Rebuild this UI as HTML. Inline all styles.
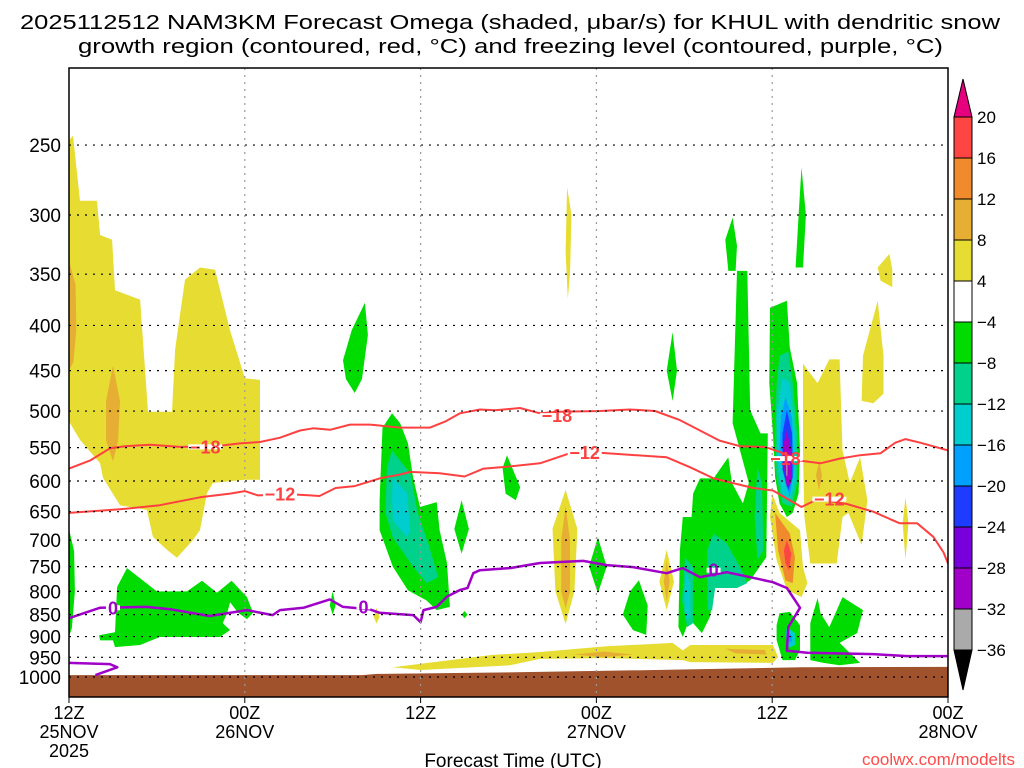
<!DOCTYPE html>
<html><head><meta charset="utf-8"><style>
html,body{margin:0;padding:0;background:#fff;}
svg{display:block;}
text{font-family:"Liberation Sans",sans-serif;fill:#000;}
</style></head><body>
<svg id="chart" width="1024" height="768" viewBox="0 0 1024 768" xmlns="http://www.w3.org/2000/svg">
<text x="20" y="29" font-size="20" textLength="980" lengthAdjust="spacingAndGlyphs">2025112512 NAM3KM Forecast Omega (shaded, μbar/s) for KHUL with dendritic snow</text>
<text x="78" y="53" font-size="20" textLength="865" lengthAdjust="spacingAndGlyphs">growth region (contoured, red, °C) and freezing level (contoured, purple, °C)</text>
<g id="plot"></g>
<g id="cbar"></g>
<text x="513" y="767" font-size="19" text-anchor="middle">Forecast Time (UTC)</text>
<text x="1015" y="765" font-size="17" text-anchor="end" style="fill:#ff4a4a">coolwx.com/modelts</text>
</svg>
<script>
// ---- axes data ----
const timeTicks = [0, 12, 24, 36, 48, 60];
const timeTickLine1 = ["12Z", "00Z", "12Z", "00Z", "12Z", "00Z"];
const timeTickLine2 = ["25NOV", "26NOV", "", "27NOV", "", "28NOV"];
const timeTickLine3 = ["2025", "", "", "", "", ""];
const pressureTicks = [250, 300, 350, 400, 450, 500, 550, 600, 650, 700, 750, 800, 850, 900, 950, 1000];
// ---- colorbar data ----
const cbLevels = [20, 16, 12, 8, 4, -4, -8, -12, -16, -20, -24, -28, -32, -36];
const cbColors = ["#ff4444", "#f08a2c", "#e6ae32", "#e6dc32", "#ffffff", "#00dc00", "#00d28c", "#00cdcd", "#00a0ff", "#1e3cff", "#7800dc", "#a000c8", "#aaaaaa"];
// ---- contour data [hour, hPa] ----
const isoMinus18 = [[0,581],[1.43,569],[2.8,551],[3.82,548],[5.53,546],[7.58,549],[9.97,548],[11.67,544],[13.04,542],[14.4,536],[15.77,526],[16.66,523],[17.82,525],[19.18,518],[20.55,518],[22.59,522],[24.64,522],[25.67,514],[26.69,503],[28.05,498],[29.08,499],[30.78,496],[32.15,503],[33.5,501],[36.25,500],[38.29,498],[40.0,500],[41.7,512],[43.07,526],[44.4,540],[45.8,548],[47.5,549],[48.5,556],[49.9,569],[51.3,573],[52.6,566],[54.0,561],[55.4,558],[56.4,543],[57.1,538],[58.1,543],[60,554]];
const isoMinus12 = [[0,652],[3.48,646],[6.2,639],[8.94,626],[11.0,620],[12.0,616],[12.9,623],[15.1,621],[16.45,623],[17.1,624],[18.2,611],[19.5,608],[21.2,596],[22.6,590],[23.3,586],[25.3,588],[27.0,593],[28.3,581],[29.9,578],[32.15,573],[34.2,558],[36.0,557],[40.8,564],[42.4,579],[44.0,596],[46.7,611],[48.05,615],[50.0,642],[51.1,629],[53.1,637],[54.9,650],[56.7,670],[57.9,670],[59.0,694],[59.7,723],[60,744]];
const isoZero = [[0,858],[2.1,835],[5.3,833],[6.9,838],[9.6,853],[12.15,840],[13.9,851],[14.4,840],[16.0,835],[17.8,817],[18.7,833],[20.5,838],[21.2,846],[23.5,851],[24.0,867],[24.2,840],[25.1,833],[25.8,811],[26.7,797],[27.2,793],[27.6,763],[28.05,757],[30.1,753],[32.15,743],[35.1,739],[36.7,747],[38.5,751],[40.8,763],[41.9,753],[43.07,771],[44.9,761],[46.5,771],[48.05,781],[49.0,793],[49.9,835],[49.1,878],[49.0,934],[50.4,939],[54.9,942],[57.2,947],[60,947]];
const isoZeroLow = [[0,964],[2.8,967],[3.3,975],[1.8,995]];
const labelsMinus18 = [[9.3,549],[33.3,506],[48.9,566]];
const labelsMinus12 = [[14.4,621],[35.2,557],[51.9,629]];
const labelsZero = [[3.0,835],[20.1,833],[44.0,757]];
// ---- terrain ----
const groundTop = [[0,995],[20,995],[21,992],[30,988],[40,982],[50,975],[60,974]];
// ---- shaded omega regions [hour, hPa] ----
const yellowA = [[0,247],[0.27,244],[0.75,289],[1.91,289],[2.12,316],[2.94,320],[3.14,365],[4.85,374],[5.39,501],[7.03,501],[7.24,426],[7.92,355],[8.94,344],[9.97,346],[10.99,405],[12.01,459],[13.04,461],[13.04,598],[12.01,598],[9.83,603],[9.42,619],[8.94,682],[8.46,700],[7.37,733],[6.69,718],[5.73,694],[5.32,647],[3.48,639],[2.32,595],[2.12,573],[0.75,539],[0.07,516],[0,516]];
const goldA1 = [[3.0,444],[3.48,487],[3.35,540],[3.0,570],[2.53,540],[2.53,487]];
const goldA2 = [[0,338],[0.45,360],[0.5,405],[0.3,440],[0,450]];
const yellowI = [[34.0,279],[34.3,300],[34.2,350],[34.05,373],[33.9,330]];
const yellowJ = [[22.1,975],[28.9,944],[32.15,937],[36.7,923],[41.2,915],[41.9,933],[42.4,920],[48.05,920],[48.4,949],[48.05,964],[42.4,962],[41.9,957],[36.7,952],[32.15,954],[30.1,970],[24.0,982]];
const goldJ1 = [[34.5,943],[36.5,936],[38.5,943],[36.5,950]];
const goldJ2 = [[44.8,929],[47.5,932],[47.6,943],[45.5,940]];
const yellowK = [[33.9,614],[34.7,680],[34.5,800],[33.9,871],[33.2,800],[33.0,680]];
const goldK = [[33.9,640],[34.2,700],[34.2,800],[33.9,836],[33.6,800],[33.6,700]];
const yellowM = [[40.8,718],[41.3,780],[40.8,840],[40.3,780]];
const goldM = [[40.8,740],[41.0,780],[40.8,820],[40.6,780]];
const yellowSmall = [[21.0,835],[21.2,855],[21.0,870],[20.8,855]];
const yellowY1 = [[50.1,442],[51.1,465],[51.9,437],[52.6,437],[52.8,554],[53.3,603],[54.0,564],[54.5,631],[54.1,709],[53.2,652],[52.8,659],[52.4,744],[50.6,744],[50.2,659],[50.1,554]];
const goldY1 = [[51.2,569],[51.4,591],[51.2,615],[51.0,591]];
const yellowY2 = [[55.2,375],[55.6,433],[55.6,478],[54.9,490],[54.1,487],[54.2,433]];
const yellowY3 = [[56.0,332],[56.2,346],[56.2,362],[55.4,356],[55.2,344]];
const yellowY4 = [[57.1,626],[57.3,670],[57.1,737],[56.9,670]];
const yellowBlobLow = [[48.0,620],[48.5,652],[49.9,682],[50.1,751],[50.4,783],[50.0,812],[49.0,797],[48.3,737],[47.85,659]];
const goldBlobLow = [[48.2,652],[49.2,688],[49.55,732],[49.4,783],[48.9,777],[48.4,719]];
const redBlobLow = [[49.0,700],[49.3,725],[49.15,757],[48.9,743],[48.8,719]];
const greenC = [[0,680],[0.35,720],[0.4,800],[0.2,880],[0,900]];
const greenD = [[3.96,753],[6.0,800],[8.05,800],[9.08,778],[10.1,803],[11.1,778],[12.15,812],[12.56,846],[12.15,860],[11.54,846],[11.0,823],[10.8,846],[10.5,869],[11.0,885],[10.3,901],[6.2,901],[4.85,920],[3.14,925],[3.0,909],[2.12,909],[2.05,897],[3.14,890],[3.28,791]];
const greenE = [[20.2,377],[20.4,410],[20.0,460],[19.5,477],[18.9,460],[18.7,438],[19.3,405]];
const greenSmall1 = [[18.0,800],[18.2,830],[18.0,850],[17.8,830]];
const greenF = [[22.05,503],[22.6,516],[23.14,544],[23.48,594],[23.96,642],[25.1,634],[25.3,682],[25.8,743],[26.0,833],[25.1,840],[24.4,819],[23.14,798],[22.1,750],[21.2,682],[21.2,631],[21.4,522]];
const tealF = [[22.05,554],[23.3,588],[23.8,652],[24.6,713],[25.2,771],[24.4,783],[23.48,750],[22.1,695],[21.6,652],[21.7,579]];
const cyanF = [[22.1,594],[23.07,619],[23.3,682],[23.07,695],[22.1,665],[22.05,626]];
const greenG = [[26.8,631],[27.3,680],[26.8,725],[26.3,680]];
const greenDots = [[27.0,842],[27.2,850],[27.0,858],[26.8,850]];
const greenH = [[29.9,561],[30.8,610],[30.5,631],[29.8,620],[29.6,580]];
const greenL = [[36.1,695],[36.7,750],[36.1,804],[35.5,750]];
const greenN = [[38.9,777],[39.5,830],[39.4,896],[38.5,885],[37.8,850],[38.3,800]];
const greenO1 = [[50.0,265],[50.3,300],[50.1,344],[49.6,344],[49.8,300]];
const greenO2 = [[45.3,302],[45.6,325],[45.5,347],[45.0,347],[44.8,320]];
const greenO3 = [[41.2,407],[41.5,450],[41.2,487],[40.8,450]];
const greenO4 = [[45.6,347],[46.3,347],[46.5,499],[47.2,530],[47.7,530],[47.6,732],[46.5,777],[45.6,793],[44.1,793],[43.75,855],[43.2,892],[42.6,869],[42.5,847],[41.9,901],[41.6,878],[41.7,719],[41.9,659],[42.5,659],[42.6,620],[43.07,596],[44.0,596],[45.0,564],[45.25,603],[46.0,636],[46.4,603],[45.8,554],[45.3,516]];
const tealT1 = [[44.0,688],[44.9,706],[45.8,751],[46.3,783],[45.6,793],[44.1,793],[43.9,840],[43.6,840],[43.55,719]];
const tealT2 = [[47.0,579],[47.3,603],[47.4,719],[47.0,737],[46.8,659]];
const tealT3 = [[42.05,732],[42.6,751],[42.6,869],[42.2,878],[41.85,819]];
const cyanT3 = [[42.1,763],[42.4,783],[42.4,855],[42.1,862],[42.0,812]];
const greenBlob = [[47.85,382],[49.0,375],[49.2,424],[49.7,465],[49.9,554],[49.8,620],[49.4,652],[49.0,659],[48.5,636],[48.2,594],[48.05,530],[47.8,465]];
const tealBlob = [[48.5,433],[49.1,428],[49.4,465],[49.7,530],[49.7,603],[49.35,642],[48.7,636],[48.3,594],[48.2,530],[48.3,465]];
const cyanBlob = [[48.7,458],[49.2,465],[49.55,530],[49.55,603],[49.2,631],[48.7,626],[48.4,579],[48.3,508]];
const ltblueBlob = [[48.9,482],[49.35,508],[49.5,579],[49.2,626],[48.9,603],[48.5,554],[48.6,508]];
const blueBlob = [[49.0,499],[49.35,530],[49.4,594],[49.1,615],[48.7,583],[48.7,530]];
const purpleBlob = [[49.0,526],[49.3,554],[49.3,603],[49.0,610],[48.8,579],[48.8,543]];
const grayBlob = [[48.96,568],[49.04,568],[49.04,592],[48.96,592]];
const greenLowRight = [[51.1,814],[51.3,847],[51.9,878],[52.8,812],[54.2,840],[53.8,892],[52.6,915],[54.0,964],[52.6,970],[51.5,964],[50.6,957],[50.6,869]];
const greenLowBlob = [[48.5,847],[49.2,844],[49.9,874],[49.9,932],[49.55,957],[48.7,957],[48.3,908],[48.3,874]];
const cyanLowBlob = [[49.0,878],[49.55,892],[49.55,920],[49.15,927],[48.9,896]];
const blueLowBlob = [[49.1,890],[49.4,900],[49.3,915],[49.1,908]];

// ---- geometry ----
const PL = 69, PR = 948, PT = 68, PB = 697;
const H0 = 0, H1 = 60;
const Y1000 = 677, KLOG = 383.7;
function xOf(h){ return PL + (h - H0) / (H1 - H0) * (PR - PL); }
function yOf(p){ return Y1000 - Math.log(1000 / p) * KLOG; }
const NS = "http://www.w3.org/2000/svg";
function mk(tag, attrs, parent){
  const e = document.createElementNS(NS, tag);
  for (const k in attrs) e.setAttribute(k, attrs[k]);
  parent.appendChild(e);
  return e;
}
function pts(arr){ return arr.map(d => xOf(d[0]).toFixed(1) + "," + yOf(d[1]).toFixed(1)).join(" "); }
const svg = document.getElementById("chart");
const plot = document.getElementById("plot");
const defs = mk("defs", {}, svg);
const cp = mk("clipPath", {id: "clipPlot"}, defs);
mk("rect", {x: PL, y: PT, width: PR - PL, height: PB - PT}, cp);
const inner = mk("g", {"clip-path": "url(#clipPlot)"}, plot);

function shade(arr, color, name){
  const el = mk("polygon", {points: pts(arr), fill: color, stroke: "none"}, inner);
  
  
}
const Y = cbColors[3], G8 = cbColors[2], OR = cbColors[1], RD = cbColors[0];
const GR = cbColors[5], TL = cbColors[6], CY = cbColors[7], LB = cbColors[8], BL = cbColors[9], PU = cbColors[11], GY = cbColors[12];
shade(yellowA, Y, "omega-positive-region");
shade(goldA1, G8, "omega-positive-core");
shade(goldA2, G8, "omega-positive-core");
shade(yellowI, Y, "omega-positive-region");
shade(yellowJ, Y, "omega-positive-region");
shade(goldJ1, G8, "omega-positive-core");
shade(goldJ2, G8, "omega-positive-core");
shade(yellowK, Y, "omega-positive-region");
shade(goldK, G8, "omega-positive-core");
shade(yellowM, Y, "omega-positive-region");
shade(goldM, G8, "omega-positive-core");
shade(yellowSmall, Y, "omega-positive-region");
shade(yellowY1, Y, "omega-positive-region");
shade(goldY1, G8, "omega-positive-core");
shade(yellowY2, Y, "omega-positive-region");
shade(yellowY3, Y, "omega-positive-region");
shade(yellowY4, Y, "omega-positive-region");
shade(yellowBlobLow, Y, "omega-positive-region");
shade(goldBlobLow, OR, "omega-positive-core");
shade(redBlobLow, RD, "omega-positive-max");
shade(greenC, GR, "omega-negative-region");
shade(greenD, GR, "omega-negative-region");
shade(greenE, GR, "omega-negative-region");
shade(greenSmall1, GR, "omega-negative-region");
shade(greenF, GR, "omega-negative-region");
shade(tealF, TL, "omega-negative-core");
shade(cyanF, CY, "omega-negative-core");
shade(greenG, GR, "omega-negative-region");
shade(greenDots, GR, "omega-negative-region");
shade(greenH, GR, "omega-negative-region");
shade(greenL, GR, "omega-negative-region");
shade(greenN, GR, "omega-negative-region");
shade(greenO1, GR, "omega-negative-region");
shade(greenO2, GR, "omega-negative-region");
shade(greenO3, GR, "omega-negative-region");
shade(greenO4, GR, "omega-negative-region");
shade(tealT1, TL, "omega-negative-core");
shade(tealT2, TL, "omega-negative-core");
shade(tealT3, TL, "omega-negative-core");
shade(cyanT3, CY, "omega-negative-core");
shade(greenBlob, GR, "omega-negative-region");
shade(tealBlob, TL, "omega-negative-core");
shade(cyanBlob, CY, "omega-negative-core");
shade(ltblueBlob, LB, "omega-negative-core");
shade(blueBlob, BL, "omega-negative-core");
shade(purpleBlob, PU, "omega-negative-max");
shade(grayBlob, GY, "omega-negative-max");
shade(greenLowRight, GR, "omega-negative-region");
shade(greenLowBlob, GR, "omega-negative-region");
shade(cyanLowBlob, CY, "omega-negative-core");
shade(blueLowBlob, LB, "omega-negative-core");

// ground
const groundPoly = groundTop.concat([[60,1100],[0,1100]]);
const ground = mk("polygon", {points: pts(groundPoly), fill: "#a0522d"}, inner);



// grid
pressureTicks.forEach(p => {
  const l = mk("line", {x1: PL, x2: PR, y1: yOf(p), y2: yOf(p), stroke: "#000", "stroke-width": 1.2, "stroke-dasharray": "2,6"}, plot);
  
  
  const t = mk("text", {x: 61, y: yOf(p) + 7, "font-size": 19, "text-anchor": "end"}, svg);
  t.textContent = p;
  
  
});
timeTicks.forEach((h, i) => {
  if (i > 0 && i < timeTicks.length - 1) {
    const l = mk("line", {x1: xOf(h), x2: xOf(h), y1: PT, y2: PB, stroke: "#999", "stroke-width": 1.2, "stroke-dasharray": "2,5"}, plot);
    
    
  }
  const tk = mk("line", {x1: xOf(h), x2: xOf(h), y1: PB, y2: PB + 6, stroke: "#000", "stroke-width": 1}, plot);
  
  
  [timeTickLine1[i], timeTickLine2[i], timeTickLine3[i]].forEach((s, j) => {
    if (!s) return;
    const t = mk("text", {x: xOf(h), y: 719 + j * 19, "font-size": 18, "text-anchor": "middle"}, svg);
    t.textContent = s;
    
    
  });
});

// contours
function contour(arr, color, w, name){
  const el = mk("polyline", {points: pts(arr), fill: "none", stroke: color, "stroke-width": w, "stroke-linejoin": "round"}, inner);
  
  
}
contour(isoMinus18, "#ff4040", 2, "isotherm-minus-18");
contour(isoMinus12, "#ff4040", 2, "isotherm-minus-12");
contour(isoZero, "#a000c8", 2.5, "freezing-level-0c");
contour(isoZeroLow, "#a000c8", 2.5, "freezing-level-0c-low");
function clabel(arr, txt, color, w, name){
  arr.forEach(d => {
    const x = xOf(d[0]), y = yOf(d[1]);
    mk("line", {x1: x - w / 2 - 1, x2: x + w / 2 + 1, y1: y, y2: y, stroke: "#fff", "stroke-width": 5}, inner);
    const t = mk("text", {x: x, y: y + 6.5, "font-size": 18, "font-weight": "bold", "text-anchor": "middle", style: "fill:" + color}, inner);
    t.textContent = txt;
    
    
  });
}
clabel(labelsMinus18, "−18", "#ff4040", 32, "isotherm-label-minus-18");
clabel(labelsMinus12, "−12", "#ff4040", 32, "isotherm-label-minus-12");
clabel(labelsZero, "0", "#a000c8", 12, "freezing-level-label");

// frame
const fr = mk("rect", {x: PL, y: PT, width: PR - PL, height: PB - PT, fill: "none", stroke: "#000", "stroke-width": 1.5}, plot);



// colorbar
const cb = document.getElementById("cbar");
const CBX = 954, CBW = 18, CBTOP = 117, CBSTEP = 41;
function cbY(i){ return CBTOP + i * CBSTEP; }
const topTri = mk("polygon", {points: `${CBX},${cbY(0)} ${CBX + CBW},${cbY(0)} ${CBX + CBW / 2},${cbY(0) - 38}`, fill: "#e6007e", stroke: "#000", "stroke-width": 1}, cb);


cbColors.forEach((c, i) => {
  const r = mk("rect", {x: CBX, y: cbY(i), width: CBW, height: CBSTEP, fill: c, stroke: "#000", "stroke-width": 1}, cb);
  
  
});
const nL = cbLevels.length - 1;
const botTri = mk("polygon", {points: `${CBX},${cbY(nL)} ${CBX + CBW},${cbY(nL)} ${CBX + CBW / 2},${cbY(nL) + 40}`, fill: "#000", stroke: "#000", "stroke-width": 1}, cb);


cbLevels.forEach((v, i) => {
  const t = mk("text", {x: 977, y: cbY(i) + 6, "font-size": 17}, cb);
  t.textContent = v < 0 ? "−" + Math.abs(v) : String(v);
  
  
});
</script>
</body></html>
